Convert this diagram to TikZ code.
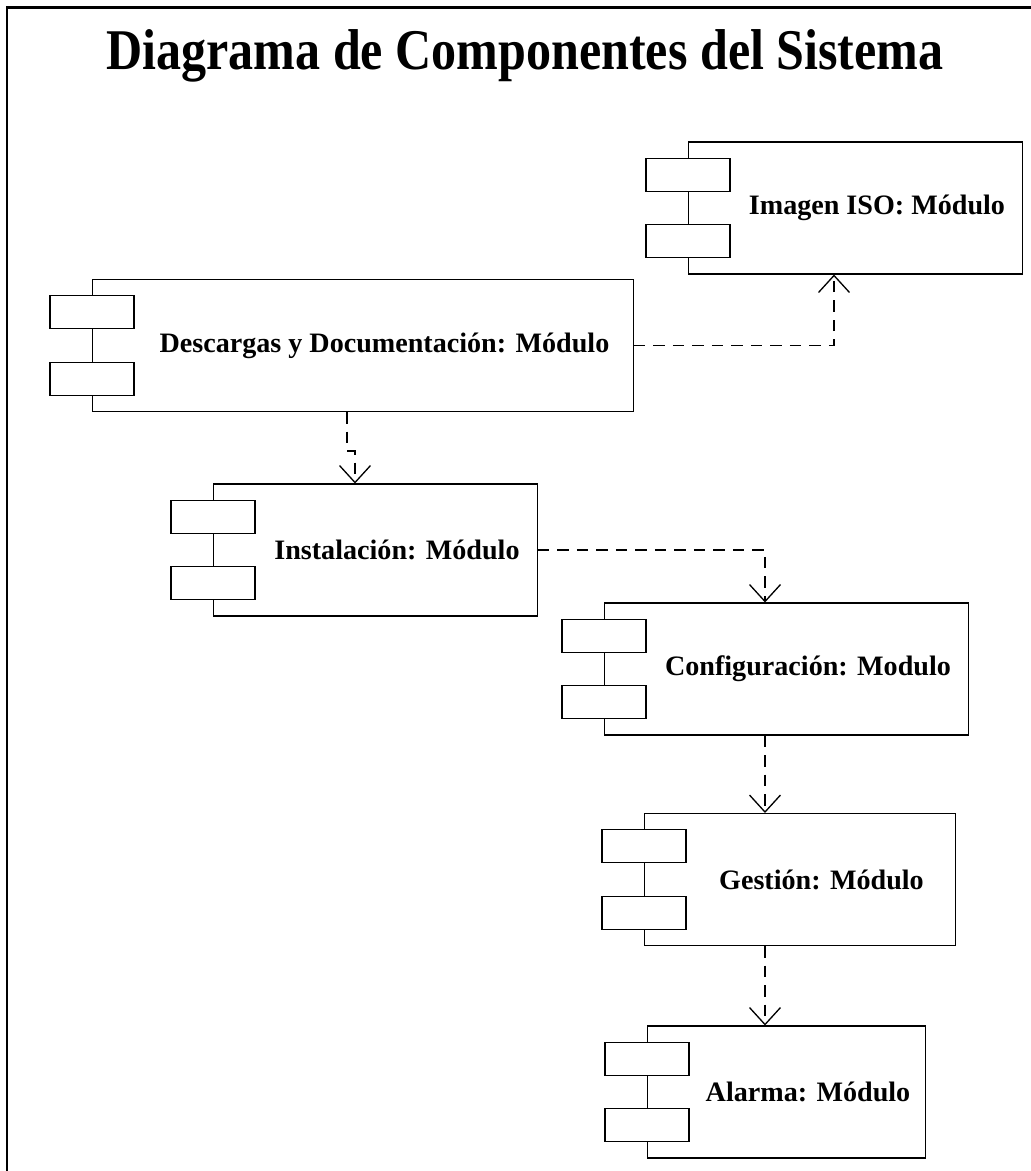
\documentclass[tikz,border=0pt]{standalone}
\usepackage{fontspec}
\setmainfont{Liberation Serif}
\usetikzlibrary{arrows.meta, calc}

\tikzstyle{modulo} = [rectangle, draw, line width=0.6pt, fill=white, anchor=west, minimum height=2.64cm, inner xsep=0.34cm, font=\fontsize{16}{19}\selectfont\bfseries, execute at begin node=\hspace*{0.86cm}]
\tikzstyle{tab} = [rectangle, draw, line width=0.6pt, fill=white, minimum width=1.68cm, minimum height=0.66cm, inner sep=0]
\tikzstyle{dep} = [draw, line width=0.75pt, dash pattern=on 0.23cm off 0.16cm, -{Straight Barb[length=0.34cm, width=0.62cm]}]

\begin{document}
\begin{tikzpicture}[x=0.02cm, y=-0.02cm]
\useasboundingbox (0,0) rectangle (1031,1171);

% marco
\begin{scope}
\clip (0,0) rectangle (1031,1171);
\draw[line width=1.7pt] (7,1200) -- (7,7) -- (1060,7);
\end{scope}

\node[font=\fontsize{28.5}{32}\selectfont\bfseries] (titulo) at (525,56) {\scalebox{1}[1.15]{Diagrama de Componentes del Sistema}};

% componentes
\node[modulo, minimum width=6.68cm] (iso) at (688,208) {Imagen ISO: Módulo};
\node[modulo, minimum width=10.82cm] (desc) at (92,345.5) {Descargas y Documentación: Módulo};
\node[modulo, minimum width=6.48cm] (inst) at (213,550) {Instalación: Módulo};
\node[modulo, minimum width=7.28cm] (conf) at (604,669) {Configuración: Modulo};
\node[modulo, minimum width=6.22cm] (gest) at (644,879.5) {Gestión: Módulo};
\node[modulo, minimum width=5.56cm, inner xsep=0.27cm] (alar) at (647,1092) {Alarma: Módulo};

\foreach \n in {iso,desc,inst,conf,gest,alar} {
  \node[tab] (\n-t1) at ($(\n.north west)!0.25!(\n.south west)$) {};
  \node[tab] (\n-t2) at ($(\n.north west)!0.75!(\n.south west)$) {};
}

% dependencias
\coordinate (c1) at (834,0);
\coordinate (c2) at (765,0);
\coordinate (j1) at (347,451);
\coordinate (j2) at (355,451);

\path [dep] (desc.east) -| (iso.south -| c1);
\path [dep] (desc.south -| j1) -- (j1) -- (j2) -- (inst.north -| j2);
\path [dep] (inst.east) -| (conf.north -| c2);
\path [dep] (conf.south -| c2) -- (gest.north -| c2);
\path [dep] (gest.south -| c2) -- (alar.north -| c2);

\end{tikzpicture}
\end{document}
